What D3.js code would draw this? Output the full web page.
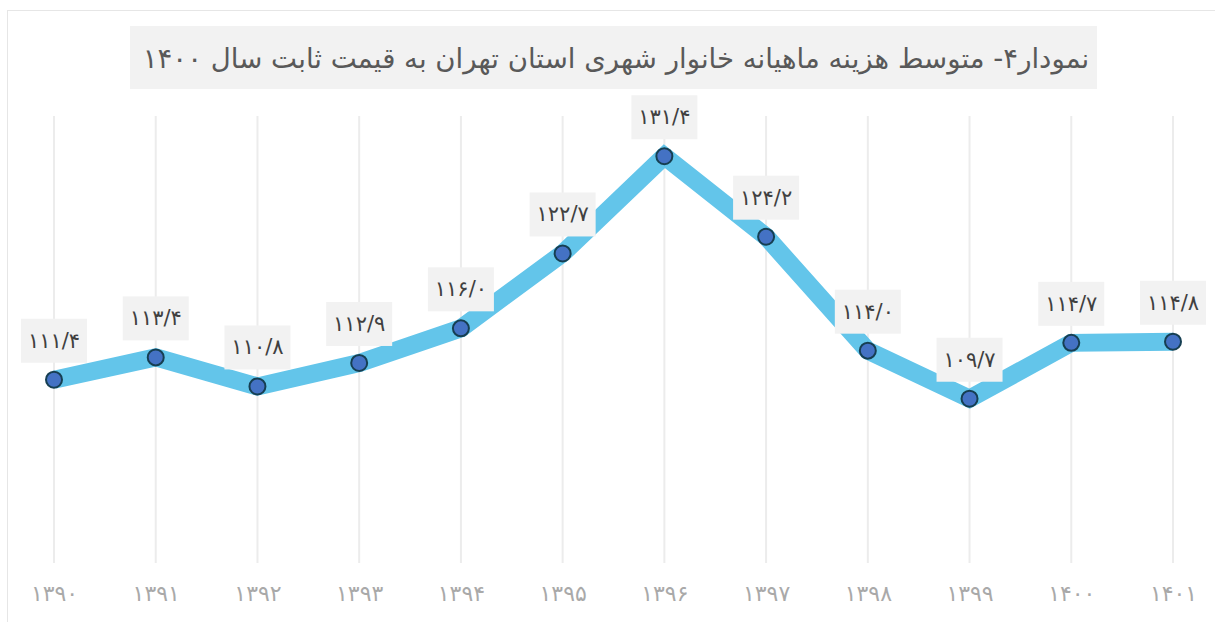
<!DOCTYPE html>
<html lang="fa">
<head>
<meta charset="utf-8">
<script src="https://cdn.jsdelivr.net/npm/d3@7"></script>
<style>
    html, body { margin: 0; padding: 0; background: #fff; }
    svg { display: block; font-family: "DejaVu Sans", sans-serif; }
</style>
</head>
<body>
<div id="chart"></div>
<script>
// Data
const years = [1390, 1391, 1392, 1393, 1394, 1395, 1396, 1397, 1398, 1399, 1400, 1401];
const values = [111.4, 113.4, 110.8, 112.9, 116.0, 122.7, 131.4, 124.2, 114.0, 109.7, 114.7, 114.8];
const yDomain = [95, 135];
const titleText = 'نمودار۴- متوسط هزینه ماهیانه خانوار شهری استان تهران به قیمت ثابت سال ۱۴۰۰';

const W = 1215, H = 622;

// Persian digits, "/" as decimal mark
function toFa(s) {
    return String(s).replace(/[0-9]/g, c => '۰۱۲۳۴۵۶۷۸۹'[+c]).replace('.', '/');
}

const svg = d3.select('#chart').append('svg')
    .attr('width', W)
    .attr('height', H);

// chart border
svg.append('rect')
    .attr('x', 7.5).attr('y', 10.5)
    .attr('width', W).attr('height', H)
    .attr('fill', '#fff')
    .attr('stroke', '#e6e6e6')
    .attr('stroke-width', 1);

const x = d3.scalePoint()
    .domain(years)
    .range([54, 1173]);

const y = d3.scaleLinear()
    .domain(yDomain)
    .range([563, 116]);

// vertical gridlines
svg.append('g')
    .selectAll('line')
    .data(years)
    .enter().append('line')
    .attr('x1', d => x(d)).attr('x2', d => x(d))
    .attr('y1', y(yDomain[1])).attr('y2', y(yDomain[0]))
    .attr('stroke', '#ececec')
    .attr('stroke-width', 2);

// x axis labels
const xAxis = d3.axisBottom(x)
    .tickSize(0)
    .tickPadding(0)
    .tickFormat(d => toFa(d));

svg.append('g')
    .attr('transform', `translate(0,${y(yDomain[0])})`)
    .call(xAxis)
    .call(g => g.select('.domain').remove())
    .call(g => g.selectAll('text')
        .attr('dy', 0)
        .attr('y', 38)
        .attr('font-family', '"DejaVu Sans", sans-serif')
        .attr('font-size', 22)
        .attr('letter-spacing', 6)
        .attr('fill', '#a9a9a9'));

// line
const line = d3.line()
    .x((d, i) => x(years[i]))
    .y(d => y(d));

svg.append('path')
    .datum(values)
    .attr('d', line)
    .attr('fill', 'none')
    .attr('stroke', '#63c5ea')
    .attr('stroke-width', 18)
    .attr('stroke-linejoin', 'miter');

// points
svg.append('g')
    .selectAll('circle')
    .data(values)
    .enter().append('circle')
    .attr('cx', (d, i) => x(years[i]))
    .attr('cy', d => y(d))
    .attr('r', 8)
    .attr('fill', '#4472c4')
    .attr('stroke', '#163f52')
    .attr('stroke-width', 2);

// value labels
const lab = svg.append('g')
    .selectAll('g')
    .data(values)
    .enter().append('g')
    .attr('transform', (d, i) => `translate(${x(years[i])},${y(d) - 39})`);

lab.append('rect')
    .attr('x', -33).attr('y', -22)
    .attr('width', 66).attr('height', 44)
    .attr('fill', '#f2f2f2');

lab.append('text')
    .attr('text-anchor', 'middle')
    .attr('dominant-baseline', 'central')
    .attr('font-size', 21)
    .attr('letter-spacing', 2)
    .attr('fill', '#404040')
    .text(d => toFa(d.toFixed(1)));

// title
const tg = svg.append('g');
tg.append('rect')
    .attr('x', 130).attr('y', 26)
    .attr('width', 967).attr('height', 63)
    .attr('fill', '#f2f2f2');

const title = tg.append('text')
    .attr('x', 616).attr('y', 58)
    .attr('text-anchor', 'middle')
    .attr('dominant-baseline', 'central')
    .attr('direction', 'rtl')
    .attr('font-size', 30)
    .attr('fill', '#595959')
    .text(titleText);

// shrink title to fit the box like the original
const tw = title.node().getComputedTextLength();
if (tw > 947) title.attr('font-size', 30 * 947 / tw);
</script>
</body>
</html>
